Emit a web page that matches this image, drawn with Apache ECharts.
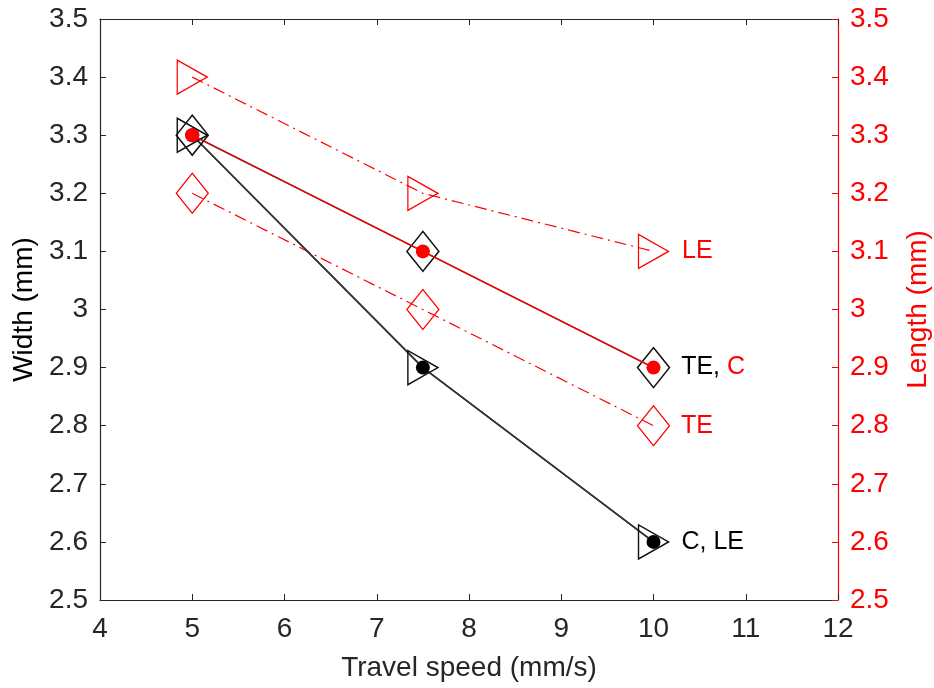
<!DOCTYPE html>
<html>
<head>
<meta charset="utf-8">
<script src="https://cdn.jsdelivr.net/npm/echarts@6/dist/echarts.min.js"></script>
<style>
  html, body { margin: 0; padding: 0; background: #fff; }
  #chart { width: 934px; height: 688px; }
</style>
</head>
<body>
<div id="chart"></div>
<script>
// travel speed (mm/s)
var speeds = [5, 7.5, 10];
var xTicks = [4, 5, 6, 7, 8, 9, 10, 11, 12];

// width (left axis, black)
var widthTE = [3.3, 3.1, 2.9];
var widthC = [3.3, 2.9, 2.6];
var widthLE = [3.3, 2.9, 2.6];

// length (right axis, red)
var lengthC = [3.3, 3.1, 2.9];
var lengthTE = [3.2, 3.0, 2.8];
var lengthLE = [3.4, 3.2, 3.1];

var yTicks = [2.5, 2.6, 2.7, 2.8, 2.9, 3, 3.1, 3.2, 3.3, 3.4, 3.5];

var FONT = 'Liberation Sans';
var DARK = '#262626';
var RED = '#ff0000';
var AXIS_FS = 28;
var NOTE_FS = 25;

// right-pointing triangle like matlab '>'
var TRI_RIGHT = 'path://M0,0 L10,5 L0,10 Z';

function pairs(xs, ys) {
    return xs.map(function (x, i) { return [x, ys[i]]; });
}

// put a text label on the last point only
function withEndLabel(data, label) {
    var out = data.slice();
    var last = out.length - 1;
    out[last] = {
        value: out[last],
        label: label
    };
    return out;
}

function fmt(v) {
    return +v.toFixed(1) + '';
}

var chartDom = document.getElementById('chart');
var myChart = echarts.init(chartDom);

var labelBase = {
    show: true,
    position: 'right',
    distance: 0,
    fontFamily: FONT,
    fontSize: NOTE_FS
};

var option = {
    backgroundColor: '#fff',
    animation: false,
    grid: {
        left: 100,
        right: 96,
        top: 19,
        bottom: 88,
        containLabel: false,
        outerBoundsMode: 'none'
    },
    xAxis: [
        {
            type: 'value',
            min: xTicks[0],
            max: xTicks[xTicks.length - 1],
            interval: 1,
            name: 'Travel speed (mm/s)',
            nameLocation: 'middle',
            nameGap: 54,
            nameTextStyle: { fontFamily: FONT, fontSize: AXIS_FS, color: DARK },
            axisLine: { show: true, onZero: false, lineStyle: { color: DARK, width: 1.2 } },
            axisTick: { show: true, inside: true, length: 6, lineStyle: { color: DARK } },
            axisLabel: { fontFamily: FONT, fontSize: AXIS_FS, color: DARK, margin: 15 },
            splitLine: { show: false }
        },
        {
            type: 'value',
            position: 'top',
            min: xTicks[0],
            max: xTicks[xTicks.length - 1],
            interval: 1,
            axisLine: { show: true, onZero: false, lineStyle: { color: DARK, width: 1.2 } },
            axisTick: { show: true, inside: true, length: 6, lineStyle: { color: DARK } },
            axisLabel: { show: false },
            splitLine: { show: false }
        }
    ],
    yAxis: [
        {
            type: 'value',
            min: yTicks[0],
            max: yTicks[yTicks.length - 1],
            interval: 0.1,
            name: 'Width (mm)',
            nameLocation: 'middle',
            nameGap: 62,
            nameTextStyle: { fontFamily: FONT, fontSize: AXIS_FS, color: '#000' },
            axisLine: { show: true, onZero: false, lineStyle: { color: DARK, width: 1.2 } },
            axisTick: { show: true, inside: true, length: 6, lineStyle: { color: DARK } },
            axisLabel: { fontFamily: FONT, fontSize: AXIS_FS, color: DARK, margin: 12, formatter: fmt },
            splitLine: { show: false }
        },
        {
            type: 'value',
            position: 'right',
            min: yTicks[0],
            max: yTicks[yTicks.length - 1],
            interval: 0.1,
            name: 'Length (mm)',
            nameLocation: 'middle',
            nameGap: 66,
            nameTextStyle: { fontFamily: FONT, fontSize: AXIS_FS, color: RED },
            axisLine: { show: true, onZero: false, lineStyle: { color: RED, width: 1.2 } },
            axisTick: { show: true, inside: true, length: 6, lineStyle: { color: RED } },
            axisLabel: { fontFamily: FONT, fontSize: AXIS_FS, color: RED, margin: 12, formatter: fmt },
            splitLine: { show: false }
        }
    ],
    series: [
        // black C (dots) -- same path as LE
        {
            type: 'line',
            yAxisIndex: 0,
            data: withEndLabel(pairs(speeds, widthC), Object.assign({}, labelBase, {
                offset: [21, 0],
                color: '#000',
                formatter: 'C, LE'
            })),
            symbol: 'circle',
            symbolSize: 14,
            itemStyle: { color: '#000' },
            lineStyle: { color: '#333', width: 1.6 },
            z: 3
        },
        {
            type: 'line',
            yAxisIndex: 0,
            data: pairs(speeds, widthLE),
            symbol: TRI_RIGHT,
            symbolSize: [30, 34],
            itemStyle: { color: 'rgba(0,0,0,0)', borderColor: '#111', borderWidth: 1.5 },
            lineStyle: { color: '#333', width: 1.6 },
            z: 3
        },
        // black TE (diamonds)
        {
            type: 'line',
            yAxisIndex: 0,
            data: withEndLabel(pairs(speeds, widthTE), Object.assign({}, labelBase, {
                offset: [11, 0],
                formatter: '{k|TE, }{r|C}',
                rich: {
                    k: { color: '#000', fontFamily: FONT, fontSize: NOTE_FS },
                    r: { color: RED, fontFamily: FONT, fontSize: NOTE_FS }
                }
            })),
            symbol: 'diamond',
            symbolSize: [32, 40],
            itemStyle: { color: 'rgba(0,0,0,0)', borderColor: '#111', borderWidth: 1.5 },
            lineStyle: { color: '#333', width: 1.6 },
            z: 3
        },
        // red C (dots, solid)
        {
            type: 'line',
            yAxisIndex: 1,
            data: pairs(speeds, lengthC),
            symbol: 'circle',
            symbolSize: 14,
            itemStyle: { color: RED },
            lineStyle: { color: RED, width: 1.2 },
            z: 4
        },
        // red TE (diamonds, dash-dot)
        {
            type: 'line',
            yAxisIndex: 1,
            data: withEndLabel(pairs(speeds, lengthTE), Object.assign({}, labelBase, {
                offset: [11, 0],
                color: RED,
                formatter: 'TE'
            })),
            symbol: 'diamond',
            symbolSize: [32, 40],
            itemStyle: { color: 'rgba(0,0,0,0)', borderColor: RED, borderWidth: 1.3 },
            lineStyle: { color: RED, width: 1.2, type: [12, 5, 2, 5] },
            z: 2
        },
        // red LE (triangles, dash-dot)
        {
            type: 'line',
            yAxisIndex: 1,
            data: withEndLabel(pairs(speeds, lengthLE), Object.assign({}, labelBase, {
                offset: [13, 0],
                color: RED,
                formatter: 'LE'
            })),
            symbol: TRI_RIGHT,
            symbolSize: [30, 34],
            itemStyle: { color: 'rgba(0,0,0,0)', borderColor: RED, borderWidth: 1.3 },
            lineStyle: { color: RED, width: 1.2, type: [12, 5, 2, 5] },
            z: 2
        }
    ]
};

myChart.setOption(option);
</script>
</body>
</html>
